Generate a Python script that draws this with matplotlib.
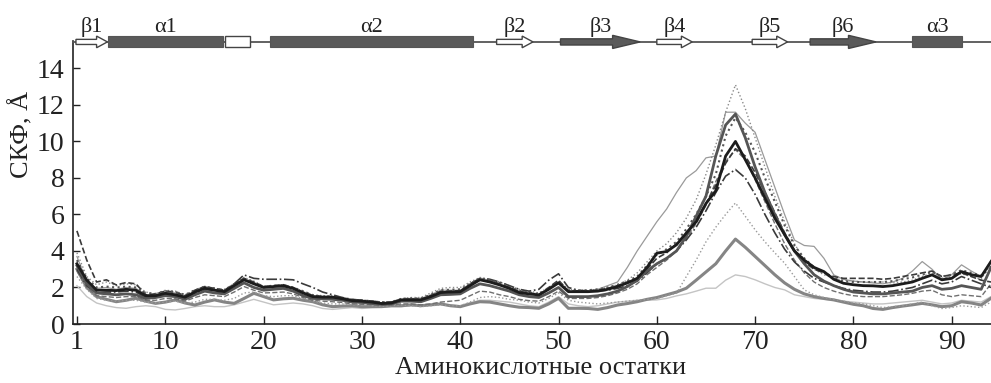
#!/usr/bin/env python3
"""
RMSF profiles per residue with the secondary structure scheme on top.
"""

import numpy as np
import matplotlib
matplotlib.use('Agg')
import matplotlib.pyplot as plt
from matplotlib.patches import Polygon, Rectangle

plt.rcParams['font.family'] = ['Liberation Serif', 'DejaVu Serif']

residues = np.arange(1, 95)

# black thick solid
rmsf_a = [3.3, 2.4, 1.85, 1.85, 1.83, 1.9, 1.85, 1.55, 1.55, 1.68,
          1.6, 1.47, 1.75, 1.96, 1.85, 1.77, 2.1, 2.42, 2.2, 2.0,
          2.05, 2.09, 1.95, 1.7, 1.5, 1.47, 1.47, 1.38, 1.28, 1.25,
          1.2, 1.12, 1.15, 1.32, 1.32, 1.32, 1.5, 1.72, 1.75, 1.77,
          2.1, 2.42, 2.3, 2.14, 1.95, 1.72, 1.65, 1.59, 1.9, 2.25,
          1.77, 1.77, 1.77, 1.8, 1.9, 2.05, 2.25, 2.5, 3.1, 3.88,
          3.97, 4.34, 4.98, 5.6, 6.6, 7.3, 9.2, 10.0, 9.0, 8.0,
          6.9, 5.8, 4.9, 4.0, 3.5, 3.1, 2.87, 2.45, 2.23, 2.15,
          2.1, 2.09, 2.05, 2.1, 2.2, 2.3, 2.5, 2.69, 2.42, 2.5,
          2.87, 2.7, 2.6, 3.42]
# dark gray thick solid
rmsf_b = [3.2, 2.2, 1.7, 1.65, 1.6, 1.65, 1.6, 1.4, 1.45, 1.55,
          1.5, 1.35, 1.6, 1.8, 1.7, 1.65, 1.95, 2.25, 2.0, 1.85,
          1.9, 1.95, 1.8, 1.55, 1.4, 1.38, 1.35, 1.3, 1.2, 1.18,
          1.12, 1.08, 1.1, 1.25, 1.25, 1.22, 1.4, 1.6, 1.62, 1.65,
          1.95, 2.2, 2.1, 1.95, 1.8, 1.6, 1.5, 1.45, 1.7, 2.0,
          1.5, 1.5, 1.5, 1.55, 1.65, 1.8, 2.05, 2.4, 2.9, 3.3,
          3.6, 4.0, 4.8, 5.9, 7.0, 9.2, 10.9, 11.5, 10.2, 8.6,
          7.2, 6.0, 4.9, 4.0, 3.3, 2.7, 2.35, 2.1, 1.9, 1.75,
          1.7, 1.65, 1.65, 1.7, 1.75, 1.8, 2.0, 2.1, 1.9, 1.95,
          2.1, 2.0, 1.9, 3.1]
# medium gray thick solid
rmsf_c = [3.0, 2.0, 1.5, 1.35, 1.22, 1.3, 1.41, 1.25, 1.13, 1.2,
          1.32, 1.15, 1.04, 1.2, 1.32, 1.2, 1.13, 1.4, 1.68, 1.5,
          1.32, 1.38, 1.41, 1.3, 1.22, 1.05, 0.95, 0.98, 1.0, 0.95,
          0.95, 0.95, 1.0, 1.0, 1.05, 1.0, 1.05, 1.1, 1.0, 0.95,
          1.1, 1.22, 1.2, 1.1, 1.0, 0.92, 0.9, 0.86, 1.1, 1.41,
          0.86, 0.86, 0.85, 0.8, 0.9, 1.04, 1.12, 1.22, 1.35, 1.45,
          1.6, 1.75, 1.96, 2.4, 2.85, 3.3, 4.0, 4.65, 4.2, 3.7,
          3.2, 2.7, 2.25, 1.9, 1.65, 1.5, 1.4, 1.32, 1.2, 1.08,
          1.0, 0.85, 0.8, 0.9, 0.98, 1.05, 1.13, 1.05, 0.95, 1.0,
          1.22, 1.15, 1.04, 1.41]
# light gray thin solid
rmsf_d = [2.1, 1.5, 1.15, 1.0, 0.9, 0.86, 0.95, 1.0, 0.95, 0.8,
          0.77, 0.85, 0.95, 1.0, 0.95, 0.95, 1.05, 1.2, 1.35, 1.2,
          1.05, 1.1, 1.15, 1.1, 1.0, 0.85, 0.8, 0.85, 0.9, 0.85,
          0.9, 0.92, 0.95, 0.95, 1.0, 1.0, 1.05, 1.1, 1.05, 1.0,
          1.15, 1.3, 1.3, 1.25, 1.2, 1.1, 1.0, 0.95, 1.2, 1.5,
          1.1, 1.0, 0.95, 1.0, 1.1, 1.2, 1.25, 1.3, 1.3, 1.32,
          1.4, 1.54, 1.65, 1.8, 1.96, 1.96, 2.4, 2.69, 2.6, 2.42,
          2.2, 2.0, 1.87, 1.6, 1.5, 1.4, 1.35, 1.3, 1.25, 1.2,
          1.15, 1.1, 1.1, 1.15, 1.2, 1.25, 1.3, 1.2, 1.1, 1.15,
          1.3, 1.25, 1.2, 1.5]
# gray dotted, low peak
rmsf_e = [2.6, 1.9, 1.4, 1.3, 1.25, 1.3, 1.3, 1.2, 1.15, 1.2,
          1.25, 1.15, 1.2, 1.35, 1.35, 1.3, 1.4, 1.7, 1.75, 1.55,
          1.5, 1.55, 1.55, 1.4, 1.25, 1.15, 1.1, 1.1, 1.05, 1.05,
          1.0, 0.98, 1.0, 1.05, 1.0, 0.95, 1.0, 1.05, 1.0, 1.0,
          1.2, 1.45, 1.5, 1.45, 1.35, 1.3, 1.2, 1.15, 1.4, 1.7,
          1.3, 1.2, 1.15, 1.1, 1.15, 1.2, 1.25, 1.3, 1.35, 1.4,
          1.55, 1.68, 2.6, 3.5, 4.5, 5.3, 6.0, 6.63, 5.9, 5.16,
          4.5, 3.9, 3.33, 2.6, 1.87, 1.6, 1.45, 1.35, 1.25, 1.15,
          1.1, 1.0, 0.9, 0.95, 1.0, 1.1, 1.2, 1.0, 0.85, 0.9,
          1.0, 0.95, 0.9, 1.2]
# gray dotted, highest peak
rmsf_f = [3.9, 2.6, 2.15, 2.3, 2.1, 2.2, 2.15, 1.75, 1.65, 1.85,
          1.8, 1.6, 1.85, 2.05, 1.95, 1.9, 2.2, 2.55, 2.35, 2.05,
          2.1, 2.15, 2.0, 1.8, 1.6, 1.55, 1.55, 1.45, 1.35, 1.3,
          1.25, 1.2, 1.2, 1.4, 1.45, 1.45, 1.7, 1.95, 2.0, 2.0,
          2.3, 2.55, 2.45, 2.3, 2.1, 1.9, 1.8, 1.7, 2.0, 2.35,
          1.9, 1.85, 1.85, 1.9, 2.0, 2.15, 2.4, 2.8, 3.4, 4.0,
          4.4, 5.0, 5.8, 6.8, 8.2, 9.8, 11.6, 13.1, 11.8, 10.2,
          8.6, 7.0, 5.6, 4.4, 3.5, 3.0, 2.7, 2.5, 2.4, 2.35,
          2.3, 2.3, 2.3, 2.25, 2.3, 2.4, 2.6, 2.8, 2.5, 2.6,
          2.75, 2.6, 2.45, 3.3]
# gray thin solid, early rise
rmsf_g = [3.7, 2.3, 1.95, 2.0, 1.9, 2.0, 1.95, 1.6, 1.6, 1.75,
          1.7, 1.5, 1.8, 2.0, 1.9, 1.8, 2.15, 2.5, 2.25, 2.0,
          2.05, 2.1, 1.95, 1.7, 1.55, 1.5, 1.5, 1.4, 1.3, 1.25,
          1.2, 1.15, 1.2, 1.35, 1.4, 1.4, 1.6, 1.85, 1.85, 1.85,
          2.2, 2.5, 2.4, 2.2, 2.0, 1.8, 1.7, 1.6, 1.95, 2.3,
          1.8, 1.8, 1.8, 1.9, 2.1, 2.3, 3.1, 4.0, 4.8, 5.6,
          6.3, 7.2, 8.0, 8.4, 9.1, 9.2, 11.6, 11.6, 11.0, 10.5,
          9.0, 7.5, 6.0, 4.6, 4.3, 4.25, 3.6, 2.69, 2.45, 2.35,
          2.3, 2.25, 2.2, 2.3, 2.5, 2.9, 3.42, 3.0, 2.42, 2.7,
          3.24, 2.9, 2.6, 3.5]
# dark dashed
rmsf_h = [5.1, 3.5, 2.3, 2.42, 2.14, 2.27, 2.2, 1.6, 1.65, 1.8,
          1.75, 1.55, 1.85, 2.05, 1.95, 1.85, 2.2, 2.5, 2.3, 2.05,
          2.1, 2.15, 2.0, 1.75, 1.55, 1.5, 1.5, 1.4, 1.3, 1.28,
          1.22, 1.15, 1.18, 1.35, 1.35, 1.35, 1.55, 1.78, 1.8, 1.82,
          2.15, 2.45, 2.35, 2.2, 2.0, 1.78, 1.7, 1.62, 2.0, 2.4,
          1.8, 1.82, 1.82, 1.85, 1.95, 2.1, 2.3, 2.5, 3.0, 3.6,
          3.9, 4.4, 5.0, 5.7, 6.6, 7.6, 8.8, 9.6, 9.2, 8.3,
          7.2, 6.1, 5.0, 4.0, 3.4, 3.0, 2.8, 2.6, 2.5, 2.5,
          2.5, 2.5, 2.45, 2.5, 2.6, 2.69, 2.8, 2.9, 2.6, 2.7,
          2.8, 2.6, 2.4, 2.3]
# dark dash-dot
rmsf_i = [3.0, 2.1, 1.7, 1.75, 1.75, 1.8, 1.75, 1.45, 1.5, 1.6,
          1.55, 1.4, 1.7, 1.9, 1.85, 1.8, 2.2, 2.69, 2.5, 2.45,
          2.45, 2.45, 2.42, 2.2, 2.0, 1.75, 1.6, 1.45, 1.35, 1.3,
          1.25, 1.2, 1.2, 1.35, 1.35, 1.35, 1.5, 1.7, 1.75, 1.8,
          2.2, 2.5, 2.45, 2.3, 2.1, 1.9, 1.8, 1.9, 2.4, 2.75,
          2.0, 1.85, 1.8, 1.8, 1.85, 1.95, 2.1, 2.35, 2.8, 3.3,
          3.6, 4.0, 4.6, 5.3, 6.2, 7.2, 8.1, 8.46, 8.0, 7.1,
          6.0, 5.0, 4.1, 3.4, 2.9, 2.5, 2.3, 2.1, 1.95, 1.85,
          1.8, 1.75, 1.75, 1.8, 1.9, 2.0, 2.2, 2.4, 2.2, 2.3,
          2.6, 2.4, 2.2, 2.0]
# dark dotted
rmsf_j = [3.5, 2.5, 2.0, 2.05, 2.0, 2.05, 2.0, 1.7, 1.65, 1.8,
          1.75, 1.6, 1.85, 2.05, 1.95, 1.85, 2.15, 2.45, 2.25, 2.05,
          2.1, 2.12, 2.0, 1.8, 1.58, 1.5, 1.5, 1.42, 1.32, 1.3,
          1.25, 1.18, 1.2, 1.38, 1.4, 1.4, 1.6, 1.85, 1.88, 1.9,
          2.2, 2.5, 2.4, 2.25, 2.05, 1.82, 1.72, 1.65, 1.95, 2.3,
          1.85, 1.82, 1.85, 1.9, 2.0, 2.15, 2.35, 2.6, 3.2, 3.8,
          4.1, 4.5, 5.2, 6.0, 7.0, 8.2, 10.3, 11.3, 10.5, 9.4,
          8.0, 6.7, 5.4, 4.3, 3.6, 3.1, 2.8, 2.5, 2.35, 2.3,
          2.3, 2.3, 2.3, 2.35, 2.45, 2.55, 2.7, 2.85, 2.6, 2.7,
          2.95, 2.8, 2.65, 3.1]
# gray dashed
rmsf_k = [2.9, 2.0, 1.55, 1.5, 1.45, 1.5, 1.5, 1.3, 1.3, 1.4,
          1.38, 1.25, 1.45, 1.6, 1.55, 1.5, 1.75, 2.05, 1.85, 1.7,
          1.72, 1.75, 1.65, 1.45, 1.3, 1.25, 1.22, 1.18, 1.1, 1.08,
          1.05, 1.02, 1.05, 1.1, 1.1, 1.05, 1.1, 1.2, 1.25, 1.3,
          1.55, 1.8, 1.75, 1.6, 1.5, 1.35, 1.28, 1.25, 1.5, 1.8,
          1.4, 1.4, 1.4, 1.45, 1.55, 1.7, 1.9, 2.2, 2.7, 3.1,
          3.5, 4.0, 4.7, 5.5, 6.5, 7.8, 8.9, 9.55, 9.0, 7.9,
          6.7, 5.5, 4.4, 3.5, 2.8, 2.3, 2.0, 1.8, 1.65, 1.55,
          1.5, 1.5, 1.5, 1.55, 1.6, 1.68, 1.8, 1.85, 1.6, 1.5,
          1.6, 1.55, 1.5, 2.2]

# secondary structure: label, first residue, last residue, kind
ss_labels = ['β1', 'α1', '', 'α2', 'β2', 'β3', 'β4', 'β5', 'β6', 'α3']
ss_start = [0.9, 4.2, 16.1, 20.6, 43.7, 50.2, 60.0, 69.7, 75.6, 86.0]
ss_end = [4.1, 15.9, 18.6, 41.3, 47.4, 58.3, 63.6, 73.3, 82.3, 91.0]
ss_kind = ['open', 'helix', 'box', 'helix', 'open', 'strand', 'open', 'open', 'strand', 'helix']

xtick_pos = [1, 10, 20, 30, 40, 50, 60, 70, 80, 90]
xtick_labels = ['1', '10', '20', '30', '40', '50', '60', '70', '80', '90']
ytick_pos = [0, 2, 4, 6, 8, 10, 12, 14]


def draw_arrow(ax, x0, x1, y, filled):
    """Beta strand arrow in data coordinates."""
    if filled:
        bh, hh, hl = 0.17, 0.36, 2.8
        face = '#5a5a5a'
    else:
        bh, hh, hl = 0.14, 0.32, 1.1
        face = 'white'
    pts = [(x0, y - bh), (x1 - hl, y - bh), (x1 - hl, y - hh), (x1, y),
           (x1 - hl, y + hh), (x1 - hl, y + bh), (x0, y + bh)]
    ax.add_patch(Polygon(pts, closed=True, facecolor=face, edgecolor='#444444',
                         lw=1.0, clip_on=False, zorder=5))


def draw_scheme(ax, y):
    ax.plot([0.6, 94.0], [y, y], color='#555555', lw=1.3, clip_on=False, zorder=4)
    for label, x0, x1, kind in zip(ss_labels, ss_start, ss_end, ss_kind):
        if kind == 'helix':
            ax.add_patch(Rectangle((x0, y - 0.3), x1 - x0, 0.6, facecolor='#5a5a5a',
                                   edgecolor='#555555', lw=0.8, clip_on=False, zorder=5))
        elif kind == 'box':
            ax.add_patch(Rectangle((x0, y - 0.3), x1 - x0, 0.6, facecolor='white',
                                   edgecolor='#444444', lw=1.0, clip_on=False, zorder=5))
        else:
            draw_arrow(ax, x0, x1, y, kind == 'strand')
        if label:
            ax.text((x0 + x1) / 2, y + 0.55, label, ha='center', va='baseline',
                    fontsize=16, color='#222222', clip_on=False)


def main():
    fig = plt.figure(figsize=(9.91, 3.83), dpi=100)
    ax = fig.add_axes([73 / 991, 59 / 383, 918 / 991, 283 / 383])

    curves = [
        (rmsf_d, '#c4c4c4', '-', 1.0),
        (rmsf_c, '#858585', '-', 2.2),
        (rmsf_e, '#9a9a9a', ':', 1.0),
        (rmsf_k, '#707070', '--', 1.0),
        (rmsf_g, '#9a9a9a', '-', 0.9),
        (rmsf_f, '#8a8a8a', ':', 1.0),
        (rmsf_i, '#3a3a3a', '-.', 1.2),
        (rmsf_h, '#3a3a3a', '--', 1.2),
        (rmsf_j, '#555555', ':', 1.5),
        (rmsf_b, '#555555', '-', 2.0),
        (rmsf_a, '#1c1c1c', '-', 2.0),
    ]
    for vals, color, ls, lw in curves:
        ax.plot(residues, vals, color=color, ls=ls, lw=lw)

    ax.set_xlim(0.6, 94.0)
    ax.set_ylim(0, 15.5)
    ax.set_xticks(xtick_pos)
    ax.set_xticklabels(xtick_labels)
    ax.set_yticks(ytick_pos)
    ax.tick_params(axis='both', direction='in', labelsize=20, width=1.0, colors='#222222')
    ax.tick_params(axis='x', length=6, pad=4)
    ax.tick_params(axis='y', length=5, pad=6)
    for side in ['top', 'right']:
        ax.spines[side].set_visible(False)
    for side in ['left', 'bottom']:
        ax.spines[side].set_linewidth(1.2)
        ax.spines[side].set_color('#222222')

    ax.set_xlabel('Аминокислотные остатки', fontsize=19, color='#222222')
    ax.xaxis.set_label_coords(0.509, -0.118)
    ax.set_ylabel('СКФ, Å', fontsize=19, color='#222222')
    ax.yaxis.set_label_coords(-0.043, 0.67)

    draw_scheme(ax, 15.45)

    fig.savefig('out.png', dpi=100)
    plt.close(fig)


if __name__ == "__main__":
    main()
